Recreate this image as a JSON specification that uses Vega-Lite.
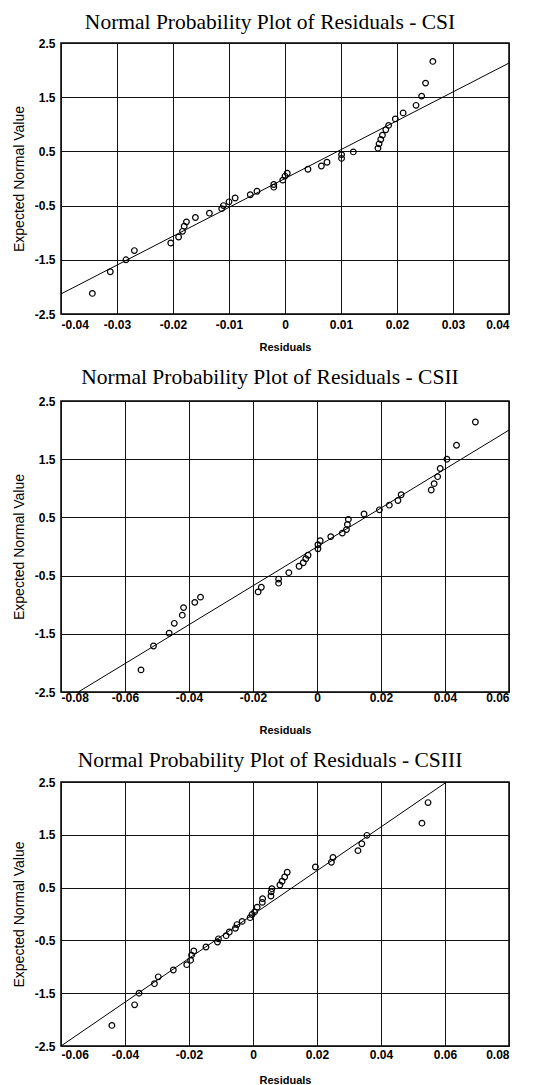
{
  "$schema": "https://vega.github.io/schema/vega-lite/v6.json",
  "background": "white",
  "padding": {"left": 11, "top": 10, "right": 20, "bottom": 2},
  "spacing": 12,
  "config": {
    "view": {"stroke": "#000", "strokeWidth": 1.5},
    "axis": {
      "labelFont": "Liberation Sans", "labelFontWeight": "bold", "labelFontSize": 12, "labelColor": "#000",
      "titleFont": "Liberation Sans", "titleFontSize": 11, "titleColor": "#000",
      "grid": true, "gridColor": "#111", "gridWidth": 1, "gridOpacity": 1,
      "domain": false, "ticks": false
    },
    "axisY": {"titleFontSize": 14},
    "title": {"font": "Liberation Serif", "fontSize": 21.5, "fontWeight": "normal", "color": "#000", "anchor": "middle", "dx": -15, "offset": 8}
  },
  "datasets": {
    "pts": [
      {"panel": "CSI", "r": -0.0344, "z": -2.12}, {"panel": "CSI", "r": -0.0312, "z": -1.72}, {"panel": "CSI", "r": -0.0284, "z": -1.50},
      {"panel": "CSI", "r": -0.0269, "z": -1.33}, {"panel": "CSI", "r": -0.0204, "z": -1.19}, {"panel": "CSI", "r": -0.0190, "z": -1.08},
      {"panel": "CSI", "r": -0.0183, "z": -0.975}, {"panel": "CSI", "r": -0.0180, "z": -0.88}, {"panel": "CSI", "r": -0.0176, "z": -0.80},
      {"panel": "CSI", "r": -0.0160, "z": -0.72}, {"panel": "CSI", "r": -0.0135, "z": -0.64}, {"panel": "CSI", "r": -0.0113, "z": -0.556},
      {"panel": "CSI", "r": -0.0110, "z": -0.50}, {"panel": "CSI", "r": -0.0100, "z": -0.43}, {"panel": "CSI", "r": -0.0089, "z": -0.36},
      {"panel": "CSI", "r": -0.0062, "z": -0.30}, {"panel": "CSI", "r": -0.0050, "z": -0.235}, {"panel": "CSI", "r": -0.0020, "z": -0.11},
      {"panel": "CSI", "r": -0.0020, "z": -0.16}, {"panel": "CSI", "r": -0.0004, "z": -0.03}, {"panel": "CSI", "r": 0.0000, "z": 0.045},
      {"panel": "CSI", "r": 0.0004, "z": 0.096}, {"panel": "CSI", "r": 0.0041, "z": 0.17}, {"panel": "CSI", "r": 0.0065, "z": 0.23},
      {"panel": "CSI", "r": 0.0075, "z": 0.30}, {"panel": "CSI", "r": 0.0101, "z": 0.37}, {"panel": "CSI", "r": 0.0101, "z": 0.44},
      {"panel": "CSI", "r": 0.0122, "z": 0.49}, {"panel": "CSI", "r": 0.0166, "z": 0.56}, {"panel": "CSI", "r": 0.0168, "z": 0.64},
      {"panel": "CSI", "r": 0.0171, "z": 0.72}, {"panel": "CSI", "r": 0.0174, "z": 0.80}, {"panel": "CSI", "r": 0.0180, "z": 0.90},
      {"panel": "CSI", "r": 0.0185, "z": 0.98}, {"panel": "CSI", "r": 0.0197, "z": 1.10}, {"panel": "CSI", "r": 0.0211, "z": 1.21},
      {"panel": "CSI", "r": 0.0234, "z": 1.35}, {"panel": "CSI", "r": 0.0244, "z": 1.52}, {"panel": "CSI", "r": 0.0251, "z": 1.76},
      {"panel": "CSI", "r": 0.0264, "z": 2.16},

      {"panel": "CSII", "r": -0.0550, "z": -2.12}, {"panel": "CSII", "r": -0.0511, "z": -1.71}, {"panel": "CSII", "r": -0.0462, "z": -1.49},
      {"panel": "CSII", "r": -0.0446, "z": -1.32}, {"panel": "CSII", "r": -0.0421, "z": -1.18}, {"panel": "CSII", "r": -0.0417, "z": -1.05},
      {"panel": "CSII", "r": -0.0382, "z": -0.96}, {"panel": "CSII", "r": -0.0364, "z": -0.87}, {"panel": "CSII", "r": -0.0184, "z": -0.78},
      {"panel": "CSII", "r": -0.0174, "z": -0.70}, {"panel": "CSII", "r": -0.0120, "z": -0.56}, {"panel": "CSII", "r": -0.0120, "z": -0.63},
      {"panel": "CSII", "r": -0.0088, "z": -0.45}, {"panel": "CSII", "r": -0.0056, "z": -0.34}, {"panel": "CSII", "r": -0.0043, "z": -0.28},
      {"panel": "CSII", "r": -0.0035, "z": -0.21}, {"panel": "CSII", "r": -0.0028, "z": -0.15}, {"panel": "CSII", "r": 0.0003, "z": -0.04},
      {"panel": "CSII", "r": 0.0003, "z": 0.03}, {"panel": "CSII", "r": 0.0010, "z": 0.10}, {"panel": "CSII", "r": 0.0043, "z": 0.17},
      {"panel": "CSII", "r": 0.0079, "z": 0.23}, {"panel": "CSII", "r": 0.0092, "z": 0.29}, {"panel": "CSII", "r": 0.0095, "z": 0.38},
      {"panel": "CSII", "r": 0.0098, "z": 0.465}, {"panel": "CSII", "r": 0.0147, "z": 0.56}, {"panel": "CSII", "r": 0.0195, "z": 0.63},
      {"panel": "CSII", "r": 0.0226, "z": 0.71}, {"panel": "CSII", "r": 0.0253, "z": 0.79}, {"panel": "CSII", "r": 0.0263, "z": 0.89},
      {"panel": "CSII", "r": 0.0357, "z": 0.97}, {"panel": "CSII", "r": 0.0366, "z": 1.08}, {"panel": "CSII", "r": 0.0377, "z": 1.20},
      {"panel": "CSII", "r": 0.0385, "z": 1.34}, {"panel": "CSII", "r": 0.0406, "z": 1.50}, {"panel": "CSII", "r": 0.0436, "z": 1.74},
      {"panel": "CSII", "r": 0.0495, "z": 2.14},

      {"panel": "CSIII", "r": -0.0441, "z": -2.11}, {"panel": "CSIII", "r": -0.0370, "z": -1.72}, {"panel": "CSIII", "r": -0.0356, "z": -1.50},
      {"panel": "CSIII", "r": -0.0308, "z": -1.32}, {"panel": "CSIII", "r": -0.0296, "z": -1.19}, {"panel": "CSIII", "r": -0.0249, "z": -1.06},
      {"panel": "CSIII", "r": -0.0207, "z": -0.96}, {"panel": "CSIII", "r": -0.0195, "z": -0.875}, {"panel": "CSIII", "r": -0.0192, "z": -0.78},
      {"panel": "CSIII", "r": -0.0185, "z": -0.70}, {"panel": "CSIII", "r": -0.0147, "z": -0.625}, {"panel": "CSIII", "r": -0.0111, "z": -0.53},
      {"panel": "CSIII", "r": -0.0108, "z": -0.47}, {"panel": "CSIII", "r": -0.0084, "z": -0.41}, {"panel": "CSIII", "r": -0.0074, "z": -0.34},
      {"panel": "CSIII", "r": -0.0055, "z": -0.27}, {"panel": "CSIII", "r": -0.0050, "z": -0.20}, {"panel": "CSIII", "r": -0.0034, "z": -0.14},
      {"panel": "CSIII", "r": -0.0009, "z": -0.07}, {"panel": "CSIII", "r": -0.0003, "z": -0.01}, {"panel": "CSIII", "r": 0.0005, "z": 0.04},
      {"panel": "CSIII", "r": 0.0013, "z": 0.13}, {"panel": "CSIII", "r": 0.0029, "z": 0.22}, {"panel": "CSIII", "r": 0.0030, "z": 0.29},
      {"panel": "CSIII", "r": 0.0056, "z": 0.34}, {"panel": "CSIII", "r": 0.0057, "z": 0.42}, {"panel": "CSIII", "r": 0.0059, "z": 0.48},
      {"panel": "CSIII", "r": 0.0084, "z": 0.55}, {"panel": "CSIII", "r": 0.0091, "z": 0.62}, {"panel": "CSIII", "r": 0.0099, "z": 0.70},
      {"panel": "CSIII", "r": 0.0107, "z": 0.79}, {"panel": "CSIII", "r": 0.0195, "z": 0.89}, {"panel": "CSIII", "r": 0.0245, "z": 0.98},
      {"panel": "CSIII", "r": 0.0250, "z": 1.07}, {"panel": "CSIII", "r": 0.0328, "z": 1.20}, {"panel": "CSIII", "r": 0.0340, "z": 1.33},
      {"panel": "CSIII", "r": 0.0356, "z": 1.49}, {"panel": "CSIII", "r": 0.0528, "z": 1.72}, {"panel": "CSIII", "r": 0.0547, "z": 2.11}
    ],
    "fit": [
      {"panel": "CSI", "r": -0.04, "z": -2.13}, {"panel": "CSI", "r": 0.04, "z": 2.13},
      {"panel": "CSII", "r": -0.0746, "z": -2.5}, {"panel": "CSII", "r": 0.06, "z": 2.0},
      {"panel": "CSIII", "r": -0.06, "z": -2.5}, {"panel": "CSIII", "r": 0.0605, "z": 2.5}
    ]
  },
  "vconcat": [
    {
      "title": {"text": "Normal Probability Plot of Residuals - CSI", "offset": 4},
      "width": 448, "height": 271,
      "encoding": {
        "x": {"field": "r", "type": "quantitative", "scale": {"domain": [-0.04, 0.04], "nice": false, "zero": false},
              "axis": {"title": "Residuals", "titleFontWeight": "bold", "values": [-0.04, -0.03, -0.02, -0.01, 0, 0.01, 0.02, 0.03, 0.04],
                       "labelExpr": "replace(format(datum.value, '.2~f'), '\u2212', '-')", "labelPadding": 5, "titlePadding": 11}},
        "y": {"field": "z", "type": "quantitative", "scale": {"domain": [-2.5, 2.5], "nice": false, "zero": false},
              "axis": {"title": "Expected Normal Value", "titleFontWeight": "normal", "values": [-2.5, -1.5, -0.5, 0.5, 1.5, 2.5],
                       "labelExpr": "replace(format(datum.value, '.1f'), '\u2212', '-')", "labelPadding": 6, "titlePadding": 8}}
      },
      "layer": [
        {"data": {"name": "fit"}, "transform": [{"filter": "datum.panel === 'CSI'"}], "mark": {"type": "line", "color": "#000", "strokeWidth": 1, "clip": true}},
        {"data": {"name": "pts"}, "transform": [{"filter": "datum.panel === 'CSI'"}], "mark": {"type": "point", "shape": "circle", "filled": false, "color": "#000", "strokeWidth": 1.2, "size": 32, "opacity": 1}}
      ]
    },
    {
      "title": {"text": "Normal Probability Plot of Residuals - CSII", "offset": 7},
      "width": 448, "height": 291,
      "encoding": {
        "x": {"field": "r", "type": "quantitative", "scale": {"domain": [-0.08, 0.06], "nice": false, "zero": false},
              "axis": {"title": "Residuals", "titleFontWeight": "bold", "values": [-0.08, -0.06, -0.04, -0.02, 0, 0.02, 0.04, 0.06],
                       "labelExpr": "replace(format(datum.value, '.2~f'), '\u2212', '-')", "labelPadding": 0, "titlePadding": 21}},
        "y": {"field": "z", "type": "quantitative", "scale": {"domain": [-2.5, 2.5], "nice": false, "zero": false},
              "axis": {"title": "Expected Normal Value", "titleFontWeight": "normal", "values": [-2.5, -1.5, -0.5, 0.5, 1.5, 2.5],
                       "labelExpr": "replace(format(datum.value, '.1f'), '\u2212', '-')", "labelPadding": 6, "titlePadding": 8}}
      },
      "layer": [
        {"data": {"name": "fit"}, "transform": [{"filter": "datum.panel === 'CSII'"}], "mark": {"type": "line", "color": "#000", "strokeWidth": 1, "clip": true}},
        {"data": {"name": "pts"}, "transform": [{"filter": "datum.panel === 'CSII'"}], "mark": {"type": "point", "shape": "circle", "filled": false, "color": "#000", "strokeWidth": 1.2, "size": 32, "opacity": 1}}
      ]
    },
    {
      "title": {"text": "Normal Probability Plot of Residuals - CSIII", "offset": 5},
      "width": 448, "height": 264,
      "encoding": {
        "x": {"field": "r", "type": "quantitative", "scale": {"domain": [-0.06, 0.08], "nice": false, "zero": false},
              "axis": {"title": "Residuals", "titleFontWeight": "bold", "values": [-0.06, -0.04, -0.02, 0, 0.02, 0.04, 0.06, 0.08],
                       "labelExpr": "replace(format(datum.value, '.2~f'), '\u2212', '-')", "labelPadding": 3, "titlePadding": 14}},
        "y": {"field": "z", "type": "quantitative", "scale": {"domain": [-2.5, 2.5], "nice": false, "zero": false},
              "axis": {"title": "Expected Normal Value", "titleFontWeight": "normal", "values": [-2.5, -1.5, -0.5, 0.5, 1.5, 2.5],
                       "labelExpr": "replace(format(datum.value, '.1f'), '\u2212', '-')", "labelPadding": 6, "titlePadding": 8}}
      },
      "layer": [
        {"data": {"name": "fit"}, "transform": [{"filter": "datum.panel === 'CSIII'"}], "mark": {"type": "line", "color": "#000", "strokeWidth": 1, "clip": true}},
        {"data": {"name": "pts"}, "transform": [{"filter": "datum.panel === 'CSIII'"}], "mark": {"type": "point", "shape": "circle", "filled": false, "color": "#000", "strokeWidth": 1.2, "size": 32, "opacity": 1}}
      ]
    }
  ]
}
